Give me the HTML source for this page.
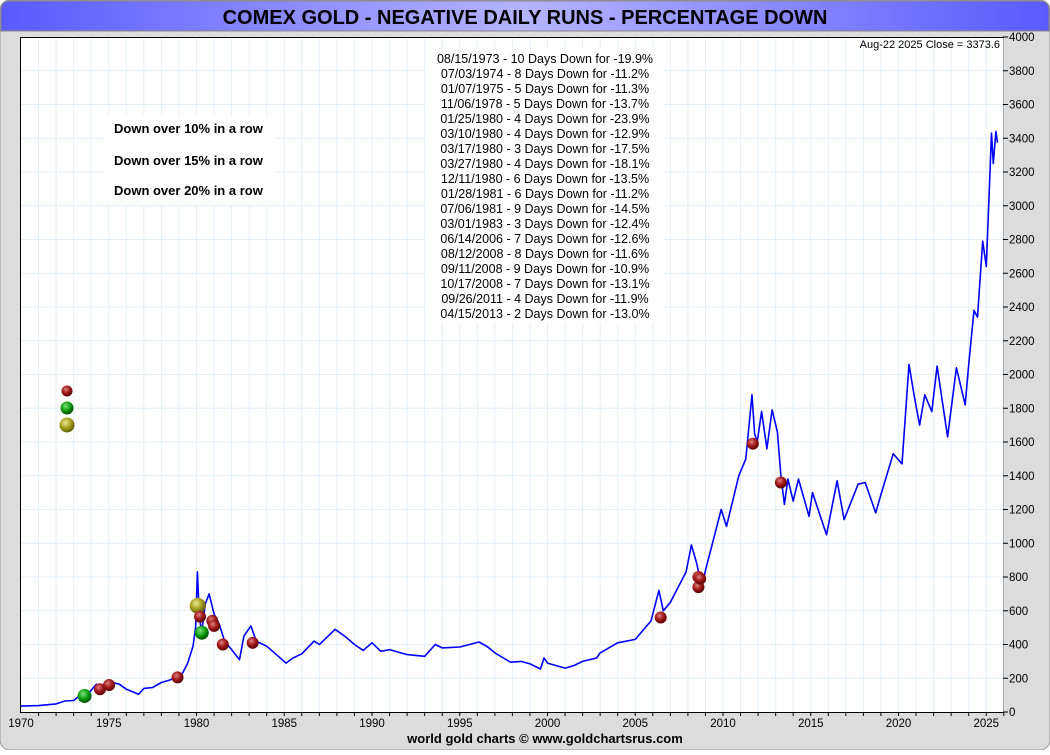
<!DOCTYPE html>
<html><head><meta charset="utf-8"><style>
body{margin:0;width:1050px;height:750px;overflow:hidden;background:#fff;font-family:"Liberation Sans",sans-serif}
</style></head><body>
<svg id="c" width="1050" height="750" xmlns="http://www.w3.org/2000/svg">
<defs>
<linearGradient id="tg" x1="0" x2="1" y1="0" y2="0"><stop offset="0" stop-color="#5a5aff"/><stop offset="0.5" stop-color="#b4b4ff"/><stop offset="1" stop-color="#5a5aff"/></linearGradient>
<radialGradient id="gr" cx="0.4" cy="0.35" r="0.7"><stop offset="0" stop-color="#e08080"/><stop offset="0.5" stop-color="#a01818"/><stop offset="1" stop-color="#500000"/></radialGradient>
<radialGradient id="gg" cx="0.4" cy="0.35" r="0.7"><stop offset="0" stop-color="#80e080"/><stop offset="0.5" stop-color="#10a010"/><stop offset="1" stop-color="#004000"/></radialGradient>
<radialGradient id="go" cx="0.4" cy="0.35" r="0.7"><stop offset="0" stop-color="#e8e890"/><stop offset="0.5" stop-color="#a8a020"/><stop offset="1" stop-color="#505000"/></radialGradient>
</defs>
<rect x="0" y="0" width="1050" height="750" rx="10" fill="#dcdcdc" stroke="#999"/>
<path d="M1,31 L1,10 Q1,1 10,1 L1040,1 Q1049,1 1049,10 L1049,31 Z" fill="url(#tg)" stroke="#888"/>
<text x="525" y="24" text-anchor="middle" font-size="20" font-weight="bold" fill="#000">COMEX GOLD - NEGATIVE DAILY RUNS - PERCENTAGE DOWN</text>
<rect x="20.5" y="37.5" width="983" height="675" fill="#fff" stroke="#000"/>
<g id="grid"></g>
<g id="axes"></g>
<rect x="105" y="115" width="170" height="90" fill="#fff"/>
<text x="114" y="133" font-size="13" font-weight="bold">Down over 10% in a row</text>
<text x="114" y="165" font-size="13" font-weight="bold">Down over 15% in a row</text>
<text x="114" y="195" font-size="13" font-weight="bold">Down over 20% in a row</text>
<circle cx="67" cy="391" r="5.5" fill="url(#gr)"/>
<circle cx="67" cy="408" r="6.5" fill="url(#gg)"/>
<circle cx="67" cy="425" r="7.5" fill="url(#go)"/>
<rect x="426" y="49" width="238" height="274" fill="#fff"/>
<g id="events" font-size="12.5" text-anchor="middle"></g>
<path id="line" fill="none" stroke="#0000ff" stroke-width="1.6" stroke-linejoin="round"/>
<g id="balls"></g>
<text x="1000" y="48" text-anchor="end" font-size="11">Aug-22  2025   Close = 3373.6</text>
<text x="545" y="743" text-anchor="middle" font-size="13" font-weight="bold">world gold charts © www.goldchartsrus.com</text>
</svg>
<script>
const priceDates=[1970,1971,1972,1972.5,1973,1973.5,1973.8,1974,1974.3,1974.6,1974.95,1975.2,1975.6,1976,1976.7,1977,1977.5,1978,1978.5,1978.9,1979.2,1979.5,1979.8,1979.95,1980.05,1980.15,1980.22,1980.3,1980.5,1980.72,1981,1981.3,1981.6,1982,1982.45,1982.7,1983.1,1983.4,1984,1984.5,1985.1,1985.5,1986,1986.7,1987,1987.9,1988.5,1989,1989.5,1990,1990.5,1991,1992,1993,1993.6,1994,1995,1996.1,1996.6,1997,1997.9,1998.5,1999,1999.6,1999.8,2000,2001,2001.5,2002,2002.8,2003,2004,2005,2005.9,2006.35,2006.6,2007,2007.9,2008.2,2008.5,2008.8,2009,2009.9,2010.2,2010.9,2011.3,2011.65,2011.8,2011.95,2012.2,2012.5,2012.8,2013.1,2013.3,2013.5,2013.7,2014,2014.3,2014.9,2015.1,2015.9,2016.5,2016.9,2017.7,2018.1,2018.7,2019,2019.7,2020.2,2020.6,2020.9,2021.2,2021.5,2021.9,2022.2,2022.8,2023.3,2023.8,2024,2024.3,2024.5,2024.8,2025,2025.3,2025.4,2025.55,2025.64];
const priceValues=[35,38,48,65,68,110,100,130,165,150,190,175,165,135,105,140,145,175,190,205,230,290,390,500,830,600,520,480,640,700,580,520,420,370,310,450,510,420,390,345,290,320,345,420,400,490,445,400,365,410,360,370,340,330,400,380,385,415,385,350,295,300,285,255,320,290,260,275,300,320,350,410,430,540,720,600,650,830,990,880,740,840,1200,1100,1400,1500,1880,1650,1600,1780,1560,1790,1660,1400,1230,1380,1250,1380,1160,1300,1050,1370,1140,1350,1360,1180,1290,1530,1470,2060,1870,1700,1880,1780,2050,1630,2040,1820,2060,2380,2340,2790,2640,3430,3250,3440,3374];
const yTicks=[0,200,400,600,800,1000,1200,1400,1600,1800,2000,2200,2400,2600,2800,3000,3200,3400,3600,3800,4000];
const xTicks=[1970,1975,1980,1985,1990,1995,2000,2005,2010,2015,2020,2025];
const runDates=[1973.62,1974.5,1975.02,1978.92,1980.07,1980.2,1980.3,1980.9,1981.0,1981.5,1983.2,2006.45,2008.6,2008.6,2008.7,2011.7,2013.3];
const runPrices=[95,135,160,205,630,565,470,540,510,400,410,560,800,740,790,1590,1360];
const runLevels=[2,1,1,1,3,1,2,1,1,1,1,1,1,1,1,1,1];
const events=["08/15/1973 - 10 Days Down for -19.9%","07/03/1974 - 8 Days Down for -11.2%","01/07/1975 - 5 Days Down for -11.3%","11/06/1978 - 5 Days Down for -13.7%","01/25/1980 - 4 Days Down for -23.9%","03/10/1980 - 4 Days Down for -12.9%","03/17/1980 - 3 Days Down for -17.5%","03/27/1980 - 4 Days Down for -18.1%","12/11/1980 - 6 Days Down for -13.5%","01/28/1981 - 6 Days Down for -11.2%","07/06/1981 - 9 Days Down for -14.5%","03/01/1983 - 3 Days Down for -12.4%","06/14/2006 - 7 Days Down for -12.6%","08/12/2008 - 8 Days Down for -11.6%","09/11/2008 - 9 Days Down for -10.9%","10/17/2008 - 7 Days Down for -13.1%","09/26/2011 - 4 Days Down for -11.9%","04/15/2013 - 2 Days Down for -13.0%"];
const NS="http://www.w3.org/2000/svg";
const X=d=>21+(d-1970)*17.55, Y=v=>712-v*0.16875;
function mk(t,a,p){const e=document.createElementNS(NS,t);for(const k in a)e.setAttribute(k,a[k]);p.appendChild(e);return e;}
const grid=document.getElementById('grid'),axes=document.getElementById('axes');
for(let yr=1971;yr<=2026;yr++){const l=mk('line',{x1:X(yr),x2:X(yr),y1:38,y2:712,stroke:'#e4eff8'},grid);
 const t=mk('line',{x1:X(yr),x2:X(yr),y1:712,y2:716,stroke:'#000'},axes);}
yTicks.forEach(v=>{if(v>0&&v<4000){const l=mk('line',{x1:21,x2:1003,y1:Y(v),y2:Y(v),stroke:'#e4eff8'},grid);}
 const t=mk('line',{x1:1003,x2:1008,y1:Y(v),y2:Y(v),stroke:'#000'},axes);
 const s=mk('text',{x:1009,y:Y(v)+4,'font-size':'11.5'},axes);s.textContent=v;});
xTicks.forEach(d=>{const s=mk('text',{x:X(d),y:727,'font-size':'11.5','text-anchor':'middle'},axes);s.textContent=d;});
document.getElementById('line').setAttribute('d',priceDates.map((d,i)=>(i?'L':'M')+X(d).toFixed(1)+','+Y(priceValues[i]).toFixed(1)).join(''));
const ev=document.getElementById('events');
events.forEach((s,i)=>{const t=mk('text',{x:545,y:63+i*15},ev);t.textContent=s;});
const balls=document.getElementById('balls');
runDates.forEach((d,i)=>{const lv=runLevels[i];const c=mk('circle',{cx:X(d),cy:Y(runPrices[i]),r:lv==1?6:lv==2?7:8,fill:lv==1?'url(#gr)':lv==2?'url(#gg)':'url(#go)'},balls);});
</script>
</body></html>
